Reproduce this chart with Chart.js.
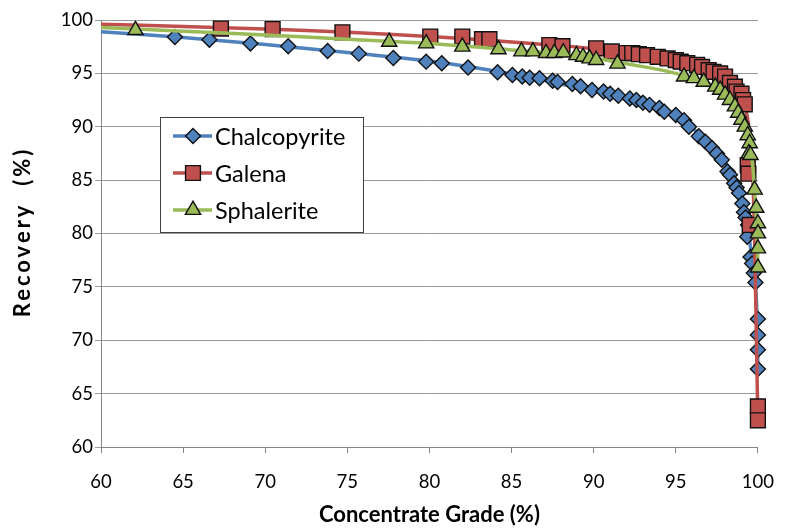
<!DOCTYPE html>
<html>
<head>
<meta charset="UTF-8">
<title>Recovery vs Concentrate Grade</title>
<script src="https://cdn.jsdelivr.net/npm/chart.js@4.4.1/dist/chart.umd.min.js"></script>
<style>
  html, body { margin: 0; padding: 0; background: #fff; }
  #wrap { width: 792px; height: 531px; position: relative; }
</style>
</head>
<body>
<div id="wrap"><canvas id="grade"></canvas></div>
<script>
// ticks
const xTicks = [60, 65, 70, 75, 80, 85, 90, 95, 100];
const yTicks = [60, 65, 70, 75, 80, 85, 90, 95, 100];
const seriesNames = ['Chalcopyrite', 'Galena', 'Sphalerite'];

// measured points (markers)
const chalcoX = [64.5, 66.6, 69.1, 71.4, 73.8, 75.7, 77.8, 79.8, 80.75, 82.35, 84.15, 85.05, 85.65, 86.1, 86.7,
  87.5, 87.8, 88.7, 89.2, 89.9, 90.6, 91.0, 91.5, 92.2, 92.6, 93.0, 93.4, 94.0, 94.3, 95.0, 95.5, 95.8,
  96.4, 96.8, 97.2, 97.5, 97.8, 98.15, 98.3, 98.55, 98.7, 98.85, 99.05, 99.15, 99.25, 99.4, 99.35,
  99.55, 99.65, 99.75, 99.85, 100, 100, 100, 100];
const chalcoY = [98.4, 98.15, 97.8, 97.55, 97.1, 96.85, 96.45, 96.1, 95.95, 95.55, 95.1, 94.85, 94.7, 94.6, 94.55,
  94.3, 94.2, 94.0, 93.8, 93.45, 93.3, 93.1, 92.9, 92.65, 92.5, 92.25, 92.05, 91.75, 91.4, 91.1, 90.6, 90.0,
  89.1, 88.6, 88.0, 87.5, 86.9, 85.8, 85.5, 84.7, 84.3, 83.8, 82.8, 82.0, 81.5, 80.8, 79.7,
  77.8, 77.2, 76.3, 75.4, 72.0, 70.5, 69.1, 67.3];

const galenaX = [67.3, 70.45, 74.7, 80.05, 82.0, 83.2, 83.65, 87.3, 88.1, 90.15, 91.1, 92.0, 92.35, 92.75, 93.25,
  93.9, 94.5, 95.0, 95.3, 95.7, 96.3, 96.6, 97.0, 97.3, 97.7, 98.0, 98.3, 98.6, 98.7, 99.0, 99.1, 99.2,
  99.38, 99.42, 99.5, 100, 100];
const galenaY = [99.2, 99.15, 98.85, 98.45, 98.45, 98.2, 98.2, 97.65, 97.55, 97.35, 97.05, 96.9, 96.9, 96.8, 96.7,
  96.55, 96.4, 96.25, 96.1, 95.95, 95.8, 95.6, 95.3, 95.15, 95.0, 94.7, 94.1, 93.75, 93.3, 93.1, 92.5, 92.1,
  86.4, 85.6, 80.8, 63.8, 62.5];

const sphalX = [62.1, 77.55, 79.8, 82.0, 84.2, 85.6, 86.3, 87.1, 87.6, 88.15, 88.95, 89.35, 89.75, 90.15, 91.45,
  95.5, 96.1, 96.7, 97.4, 97.7, 98.0, 98.3, 98.6, 98.8, 99.0, 99.2, 99.38, 99.5, 99.45, 99.55,
  99.8, 99.9, 100, 100, 100, 100];
const sphalY = [99.05, 97.95, 97.8, 97.5, 97.25, 97.05, 97.05, 96.9, 96.9, 96.95, 96.7, 96.55, 96.4, 96.25, 95.9,
  94.7, 94.55, 94.2, 93.75, 93.45, 93.0, 92.5, 91.9, 91.3, 90.65, 90.0, 89.2, 88.45, 87.5, 87.35,
  84.1, 82.4, 80.95, 80.0, 78.6, 76.8];

// smooth curves
const chalcoCurveX = [60, 65, 70, 75, 80, 85, 88, 90, 92, 94, 95, 96, 97, 98, 98.5, 99, 99.3, 99.5, 99.7, 99.85, 99.95, 100];
const chalcoCurveY = [98.9, 98.35, 97.7, 96.95, 96.15, 94.95, 94.0, 93.35, 92.7, 91.7, 91.0, 89.9, 88.4, 86.7, 85.0, 83.0, 81.5, 79.3, 76.6, 75.2, 72.0, 67.3];

const galenaCurveX = [60, 65, 70, 75, 80, 85, 88, 90, 92, 94, 95, 96, 97, 98, 98.5, 99, 99.3, 99.55, 99.72, 99.84, 99.92, 100];
const galenaCurveY = [99.6, 99.4, 99.15, 98.85, 98.45, 97.95, 97.6, 97.3, 96.9, 96.5, 96.2, 95.85, 95.25, 94.4, 93.75, 92.8, 91.4, 88.5, 84.0, 76.0, 69.0, 62.5];

const sphalCurveX = [60, 65, 70, 75, 80, 85, 88, 90, 92, 94, 95, 96, 97, 98, 98.5, 99, 99.3, 99.6, 99.8, 99.93, 100];
const sphalCurveY = [99.3, 98.95, 98.6, 98.2, 97.8, 97.2, 96.85, 96.45, 95.9, 95.35, 95.0, 94.55, 94.05, 93.2, 92.4, 91.3, 89.9, 87.5, 84.0, 80.5, 76.7];

const yTitle = 'Recovery  (%)';
const xTitle = 'Concentrate Grade (%)';

const blue = '#4F81BD', red = '#C0504D', green = '#9BBB59';

function pts(xs, ys) {
  return xs.map((x, i) => ({ x: x, y: ys[i] }));
}

function curve(xs, ys, color, order) {
  return {
    data: pts(xs, ys), showLine: true, borderColor: color, borderWidth: 3.5,
    pointRadius: 0, tension: 0.4, fill: false, clip: false, order: order
  };
}

function markers(label, xs, ys, color, style, r, order) {
  return {
    label: label, data: pts(xs, ys), showLine: false, pointStyle: style, pointRadius: r,
    pointBackgroundColor: color, pointBorderColor: '#111', pointBorderWidth: 1.4,
    clip: false, order: order
  };
}

function drawMarker(ctx, style, x, y, r) {
  ctx.beginPath();
  if (style === 'rectRot') {
    ctx.moveTo(x, y - r); ctx.lineTo(x + r, y); ctx.lineTo(x, y + r); ctx.lineTo(x - r, y);
  } else if (style === 'rect') {
    const s = r * Math.SQRT1_2;
    ctx.rect(x - s, y - s, 2 * s, 2 * s);
  } else {
    ctx.moveTo(x, y - r);
    ctx.lineTo(x + r * 0.866, y + r * 0.5);
    ctx.lineTo(x - r * 0.866, y + r * 0.5);
  }
  ctx.closePath();
  ctx.fill();
  ctx.stroke();
}

// legend box inside the plot + spaced vertical title
const boxLegend = {
  id: 'boxLegend',
  afterDraw(chart) {
    const ctx = chart.ctx;
    const items = chart.data.datasets.filter(d => d.label);
    ctx.save();
    ctx.fillStyle = '#fff';
    ctx.strokeStyle = '#404040';
    ctx.lineWidth = 1;
    ctx.fillRect(160, 117, 203, 115);
    ctx.strokeRect(160.5, 117.5, 203, 115);
    items.forEach((d, i) => {
      const y = 136 + i * 37;
      ctx.strokeStyle = d.pointBackgroundColor;
      ctx.lineWidth = 3.5;
      ctx.beginPath();
      ctx.moveTo(173, y); ctx.lineTo(212, y);
      ctx.stroke();
      ctx.fillStyle = d.pointBackgroundColor;
      ctx.strokeStyle = '#111';
      ctx.lineWidth = 1.4;
      drawMarker(ctx, d.pointStyle, 193, y, d.pointRadius);
      ctx.fillStyle = '#000';
      ctx.font = '23.5px Lato';
      ctx.textBaseline = 'middle';
      ctx.textAlign = 'left';
      ctx.fillText(d.label, 215, y + 1);
    });
    ctx.restore();

    const area = chart.chartArea;
    ctx.save();
    ctx.translate(23, (area.top + area.bottom) / 2);
    ctx.rotate(-Math.PI / 2);
    ctx.font = 'bold 22px Lato';
    ctx.fillStyle = '#000';
    ctx.textAlign = 'center';
    ctx.textBaseline = 'middle';
    ctx.letterSpacing = '3px';
    ctx.fillText(yTitle, 1.5, 0);
    ctx.restore();
  }
};

Chart.defaults.font.family = 'Lato';
Chart.defaults.color = '#000';

new Chart(document.getElementById('grade'), {
  type: 'scatter',
  data: {
    datasets: [
      curve(chalcoCurveX, chalcoCurveY, blue, 6),
      markers(seriesNames[0], chalcoX, chalcoY, blue, 'rectRot', 7.5, 5),
      curve(galenaCurveX, galenaCurveY, red, 4),
      markers(seriesNames[1], galenaX, galenaY, red, 'rect', 10.5, 3),
      curve(sphalCurveX, sphalCurveY, green, 2),
      markers(seriesNames[2], sphalX, sphalY, green, 'triangle', 8.8, 1)
    ]
  },
  options: {
    responsive: true,
    maintainAspectRatio: false,
    animation: false,
    layout: { padding: { top: 20, right: 20, left: 0, bottom: 0 } },
    plugins: { legend: { display: false }, tooltip: { enabled: false } },
    scales: {
      x: {
        type: 'linear', min: 60, max: 100,
        afterBuildTicks: s => { s.ticks = xTicks.map(v => ({ value: v })); },
        afterFit: s => { s.height = 84; },
        grid: { drawOnChartArea: false, color: '#868686', tickLength: 6 },
        border: { color: '#868686' },
        ticks: { font: { size: 18.5 }, padding: 18, maxRotation: 0 },
        title: { display: true, text: xTitle, font: { size: 22, weight: 'bold' }, padding: { bottom: 3 } }
      },
      y: {
        type: 'linear', min: 60, max: 100,
        afterBuildTicks: s => { s.ticks = yTicks.map(v => ({ value: v })); },
        afterFit: s => { s.width = 101; },
        grid: { color: '#9a9a9a', tickLength: 6 },
        border: { color: '#868686' },
        ticks: { font: { size: 18.5 }, padding: 2 },
        title: { display: false }
      }
    }
  },
  plugins: [boxLegend]
});
</script>
</body>
</html>
